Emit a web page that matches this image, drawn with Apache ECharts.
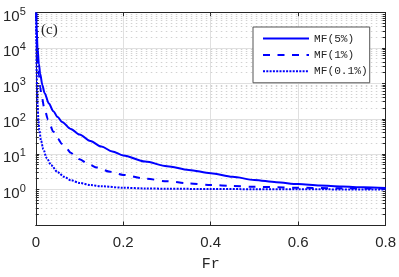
<!DOCTYPE html>
<html>
<head>
<meta charset="utf-8">
<script src="https://cdn.jsdelivr.net/npm/echarts@6/dist/echarts.min.js"></script>
<style>
html,body{margin:0;padding:0;background:#fff;}
#chart{width:399px;height:277px;}
</style>
</head>
<body>
<div id="chart"></div>
<script>
// ---- data ----
const seriesNames = ['MF(5%)', 'MF(1%)', 'MF(0.1%)'];

const fr5  = [0.001, 0.002, 0.004, 0.007, 0.01, 0.015, 0.02, 0.03, 0.04, 0.05, 0.06, 0.08, 0.1, 0.125, 0.15, 0.175, 0.2, 0.25, 0.3, 0.35, 0.4, 0.45, 0.5, 0.55, 0.6, 0.65, 0.7, 0.75, 0.8];
const mf5  = [100000, 35000, 10000, 3600, 1900, 900, 540, 270, 165, 112, 82, 52, 36, 23.5, 16.5, 12, 9.2, 6.2, 4.6, 3.6, 2.9, 2.3, 1.88, 1.62, 1.43, 1.31, 1.23, 1.16, 1.11];

const fr1  = [0.001, 0.002, 0.003, 0.005, 0.007, 0.01, 0.013, 0.02, 0.028, 0.04, 0.05, 0.06, 0.07, 0.08, 0.09, 0.1, 0.12, 0.14, 0.17, 0.2, 0.25, 0.3, 0.35, 0.4, 0.45, 0.5, 0.6, 0.7, 0.8];
const mf1  = [100000, 25000, 11000, 3500, 1700, 800, 450, 190, 95, 44, 28, 19.5, 14.5, 11, 8.8, 7.2, 5.3, 4.2, 3.2, 2.6, 2.05, 1.72, 1.5, 1.36, 1.27, 1.2, 1.13, 1.09, 1.07];

const fr01 = [0.0005, 0.001, 0.002, 0.003, 0.004, 0.006, 0.008, 0.012, 0.017, 0.025, 0.035, 0.05, 0.065, 0.08, 0.1, 0.125, 0.15, 0.2, 0.25, 0.3, 0.4, 0.5, 0.6, 0.7, 0.8];
const mf01 = [100000, 15000, 2000, 600, 250, 90, 48, 24, 14, 7.8, 4.9, 3.1, 2.3, 1.85, 1.55, 1.35, 1.24, 1.13, 1.08, 1.06, 1.04, 1.03, 1.02, 1.015, 1.01];

const xTicks = [0, 0.2, 0.4, 0.6, 0.8];
const yMin = 0.1, yMax = 100000;
const minorMultipliers = [2, 3, 4, 5, 6, 7, 8, 9];
const decades = [0.1, 1, 10, 100, 1000, 10000];
const panelLabel = '(c)';
const xName = 'Fr';

// ---- build ----
const pairs = (xs, ys) => xs.map((x, i) => [x, ys[i]]);
const minorVals = [];
decades.forEach(d => minorMultipliers.forEach(m => minorVals.push([0, +(m * d).toPrecision(3)])));

const TXT = '#262626';
const AX = '#262626';
const chart = echarts.init(document.getElementById('chart'), null, {renderer: 'canvas'});

const lineCommon = {
  type: 'line', showSymbol: false, symbol: 'none', smooth: 0.3, smoothMonotone: 'x',
  xAxisIndex: 0, yAxisIndex: 0, z: 4, clip: true
};

chart.setOption({
  animation: false,
  backgroundColor: '#ffffff',
  grid: {left: 32.3, right: 11.7, top: 12.7, bottom: 48, containLabel: false},
  xAxis: [{
    type: 'value', min: xTicks[0], max: xTicks[xTicks.length - 1], interval: 0.2,
    position: 'bottom',
    name: xName, nameLocation: 'middle', nameGap: 32,
    nameTextStyle: {fontFamily: 'Liberation Mono', fontSize: 15, color: TXT},
    axisLine: {show: true, onZero: false, lineStyle: {color: AX, width: 1}},
    axisTick: {show: true, inside: true, length: 3.5, lineStyle: {color: AX}},
    axisLabel: {fontFamily: 'Liberation Sans', fontSize: 15, color: TXT, margin: 10,
      formatter: v => String(+v.toFixed(1))},
    splitLine: {show: true, lineStyle: {color: '#e0e0e0', width: 1}}
  }, {
    type: 'value', min: xTicks[0], max: xTicks[xTicks.length - 1], interval: 0.2,
    position: 'top',
    axisLine: {show: true, onZero: false, lineStyle: {color: AX, width: 1}},
    axisTick: {show: true, inside: true, length: 3.5, lineStyle: {color: AX}},
    axisLabel: {show: false}, splitLine: {show: false}
  }],
  yAxis: [{
    type: 'log', logBase: 10, min: yMin, max: yMax,
    position: 'left',
    axisLine: {show: true, onZero: false, lineStyle: {color: AX, width: 1}},
    axisTick: {show: true, inside: true, length: 3.5, lineStyle: {color: AX}},
    axisLabel: {
      margin: 10, color: TXT,
      formatter: v => {
        const e = Math.round(Math.log10(v));
        if (e < 0) return '';
        return '{b|10}{s|' + e + '}';
      },
      rich: {
        b: {fontFamily: 'Liberation Sans', fontSize: 15, lineHeight: 15, color: TXT, padding: [8, 0, 0, 0]},
        s: {fontFamily: 'Liberation Sans', fontSize: 11, lineHeight: 11, color: TXT, padding: [5, 0, 7, 0]}
      }
    },
    splitLine: {show: true, lineStyle: {color: '#e0e0e0', width: 1}}
  }, {
    type: 'log', logBase: 10, min: yMin, max: yMax,
    position: 'right',
    axisLine: {show: true, onZero: false, lineStyle: {color: AX, width: 1}},
    axisTick: {show: true, inside: true, length: 3.5, lineStyle: {color: AX}},
    axisLabel: {show: false}, splitLine: {show: false}
  }],
  legend: {
    data: seriesNames,
    orient: 'vertical', left: 253, top: 27,
    padding: [6, 2, 6, 9],
    itemWidth: 46, itemHeight: 14, itemGap: 5.1,
    itemStyle: {color: 'rgba(0,0,0,0)', borderColor: 'rgba(0,0,0,0)', borderWidth: 0, opacity: 0},
    backgroundColor: '#ffffff', borderColor: '#555555', borderWidth: 1, borderRadius: 0,
    textStyle: {fontFamily: 'Liberation Mono', fontSize: 11.2, color: TXT},
    selectedMode: false
  },
  graphic: [{
    type: 'text', left: 41, top: 22.5, z: 10,
    style: {text: panelLabel, fontFamily: 'Liberation Serif', fontSize: 15, fill: TXT}
  }],
  series: [
    {
      type: 'custom', silent: true, z: 1, xAxisIndex: 0, yAxisIndex: 0,
      data: minorVals, encode: {x: 0, y: 1}, clip: false,
      renderItem: (params, api) => {
        const cs = params.coordSys;
        let y = api.coord([0, api.value(1)])[1];
        y = Math.round(y - 0.5) + 0.5;
        return {type: 'group', children: [
          {type: 'line', shape: {x1: cs.x, y1: y, x2: cs.x + cs.width, y2: y},
            style: {stroke: '#d2d2d2', lineWidth: 1, lineDash: [1.5, 3.5]}},
          {type: 'line', shape: {x1: cs.x, y1: y, x2: cs.x + 3, y2: y},
            style: {stroke: AX, lineWidth: 1}},
          {type: 'line', shape: {x1: cs.x + cs.width - 3, y1: y, x2: cs.x + cs.width, y2: y},
            style: {stroke: AX, lineWidth: 1}}
        ]};
      }
    },
    Object.assign({}, lineCommon, {
      name: seriesNames[0], data: pairs(fr5, mf5),
      lineStyle: {color: '#0000ff', width: 2, type: 'solid'}, itemStyle: {color: '#0000ff'}
    }),
    Object.assign({}, lineCommon, {
      name: seriesNames[1], data: pairs(fr1, mf1),
      lineStyle: {color: '#0000ff', width: 2, type: [7, 7.5]}, itemStyle: {color: '#0000ff'}
    }),
    Object.assign({}, lineCommon, {
      name: seriesNames[2], data: pairs(fr01, mf01),
      lineStyle: {color: '#0000ff', width: 2, type: [2, 1.3]}, itemStyle: {color: '#0000ff'}
    })
  ]
});
</script>
</body>
</html>
